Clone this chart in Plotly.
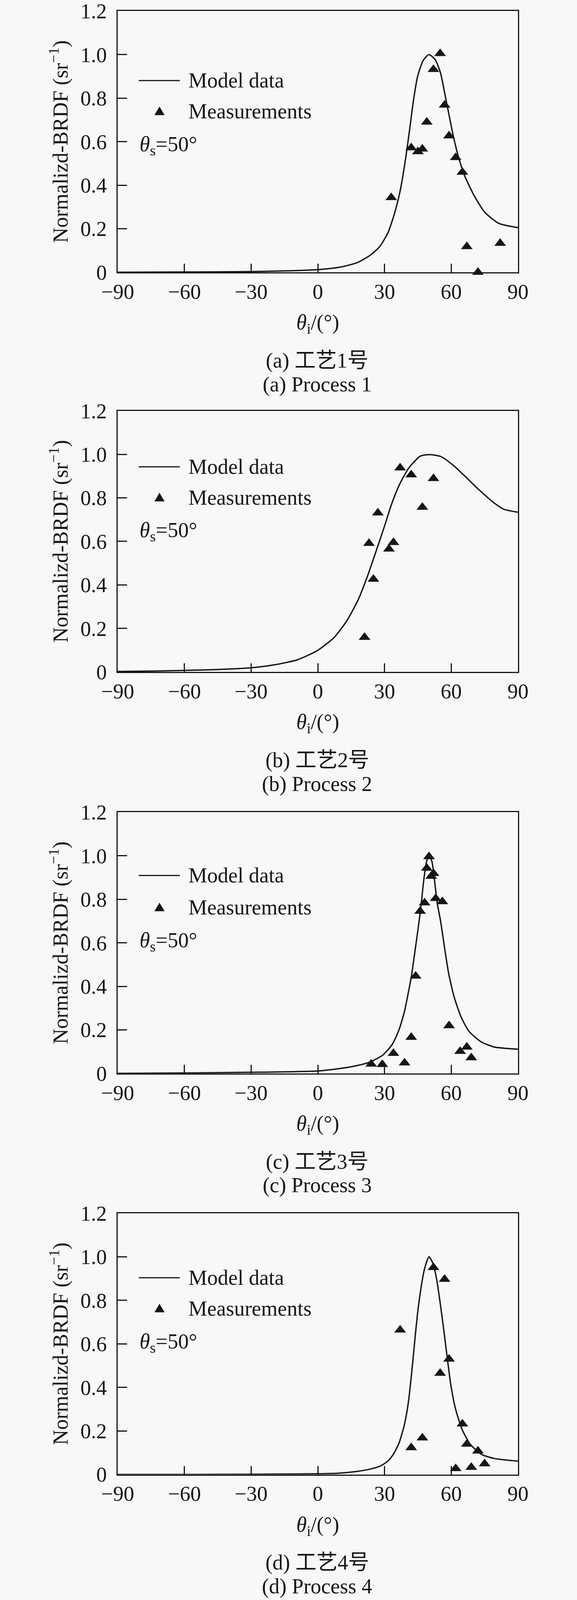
import plotly.graph_objects as go

# ---- data ----
# (a) Process 1
angle_model_1 = [-90, -60, -30, -15, 0, 9.8, 17.7, 23.7, 28.0, 31.6, 34.6, 37.1, 39.5, 41.3, 43.1,
                 44.9, 47.4, 50.0, 52.8, 55.2, 57.3, 59.2, 61.0, 63.4, 66.1, 70.4, 75.2, 81.3, 90]
brdf_model_1 = [0.0, 0.001, 0.003, 0.006, 0.012, 0.023, 0.044, 0.079, 0.120, 0.183, 0.274, 0.378,
                0.524, 0.657, 0.796, 0.901, 0.974, 1.0, 0.977, 0.915, 0.810, 0.713, 0.622, 0.524,
                0.441, 0.350, 0.274, 0.225, 0.205]
angle_meas_1 = [33, 42, 45, 47, 49, 52, 55, 57, 59, 62, 65, 67, 72, 82]
brdf_meas_1 = [0.343, 0.572, 0.554, 0.566, 0.690, 0.932, 1.005, 0.768, 0.627, 0.527, 0.460,
               0.118, 0.0, 0.133]

# (b) Process 2
angle_model_2 = [-90, -75, -60, -45, -30, -19.9, -9.1, 0.1, 7.4, 13.1, 18.2, 22.5, 26.0, 29.7, 33.2,
                 36.8, 41.1, 46.1, 50.4, 55.5, 61.2, 67.0, 72.7, 78.5, 83.5, 90]
brdf_model_2 = [0.002, 0.004, 0.007, 0.011, 0.019, 0.032, 0.056, 0.100, 0.159, 0.236, 0.333, 0.445,
                0.549, 0.661, 0.772, 0.863, 0.940, 0.992, 0.999, 0.989, 0.947, 0.891, 0.835,
                0.783, 0.748, 0.734]
angle_meas_2 = [21, 23, 25, 27, 32, 34, 37, 42, 47, 52]
brdf_meas_2 = [0.159, 0.591, 0.426, 0.731, 0.565, 0.595, 0.938, 0.906, 0.757, 0.889]

# (c) Process 3
angle_model_3 = [-90, -60, -30, 0, 9.8, 17.7, 23.7, 29.2, 33.4, 36.5, 38.9, 40.7, 42.2, 43.7,
                 45.2, 46.4, 47.6, 48.9, 50.0, 51.3, 52.5, 53.7, 55.2, 57.0, 58.8, 61.3, 64.3,
                 67.9, 73.4, 79.4, 90]
brdf_model_3 = [0.0, 0.002, 0.005, 0.011, 0.022, 0.036, 0.053, 0.084, 0.132, 0.200, 0.282,
                0.371, 0.454, 0.563, 0.673, 0.769, 0.885, 0.974, 1.0, 0.974, 0.885, 0.782,
                0.700, 0.577, 0.461, 0.351, 0.262, 0.194, 0.145, 0.121, 0.111]
angle_meas_3 = [24, 29, 34, 39, 42, 44, 46, 48, 49, 50, 51, 52, 53, 56, 59, 64, 67, 69]
brdf_meas_3 = [0.043, 0.041, 0.092, 0.048, 0.166, 0.447, 0.745, 0.784, 0.943, 0.996, 0.906,
               0.919, 0.804, 0.789, 0.219, 0.101, 0.121, 0.072]

# (d) Process 4
angle_model_4 = [-90, -60, -30, 0, 9.8, 17.7, 23.7, 28.0, 31.6, 34.0, 36.5, 38.9, 40.7, 42.2,
                 43.5, 44.7, 46.2, 48.0, 50.0, 51.9, 53.5, 55.2, 56.7, 58.3, 59.8, 61.9, 64.9,
                 68.6, 73.4, 79.4, 90]
brdf_model_4 = [0.0, 0.0, 0.001, 0.003, 0.006, 0.014, 0.025, 0.038, 0.062, 0.093, 0.144, 0.227,
                0.330, 0.467, 0.604, 0.727, 0.844, 0.946, 1.0, 0.967, 0.892, 0.775, 0.659,
                0.528, 0.412, 0.302, 0.206, 0.138, 0.093, 0.073, 0.061]
angle_meas_4 = [37, 42, 47, 52, 55, 57, 59, 62, 65, 67, 69, 72, 75]
brdf_meas_4 = [0.664, 0.123, 0.168, 0.951, 0.465, 0.897, 0.530, 0.027, 0.232, 0.139, 0.033,
               0.108, 0.049]

captions_cn = ["(a) 工艺1号", "(b) 工艺2号", "(c) 工艺3号", "(d) 工艺4号"]
captions_en = ["(a) Process 1", "(b) Process 2", "(c) Process 3", "(d) Process 4"]

x_ticks = [-90, -60, -30, 0, 30, 60, 90]
x_tick_labels = ["\u221290", "\u221260", "\u221230", "0", "30", "60", "90"]
y_ticks = [0, 0.2, 0.4, 0.6, 0.8, 1.0, 1.2]
y_tick_labels = ["0", "0.2", "0.4", "0.6", "0.8", "1.0", "1.2"]

models = [(angle_model_1, brdf_model_1), (angle_model_2, brdf_model_2),
          (angle_model_3, brdf_model_3), (angle_model_4, brdf_model_4)]
meas = [(angle_meas_1, brdf_meas_1), (angle_meas_2, brdf_meas_2),
        (angle_meas_3, brdf_meas_3), (angle_meas_4, brdf_meas_4)]

# ---- page geometry, in pixels of the 1476x4173 original ----
W, H = 1476, 4173
FIG_H = 4096          # visible page height; paper fractions keep the original proportions
plot_left, plot_right = 301, 1325
panel_top = [29, 1071.5, 2118.5, 3164.5]
panel_h = 681
# legend rows, measured down from each panel top: line, triangle, theta_s note
legend_rows = [(181, 261, 343), (146, 226, 307), (165, 248, 329), (168, 248, 330)]

FONT = "Liberation Serif, Times New Roman, Noto Sans CJK SC, serif"
INK = "#161616"
BG = "#f8f8f8"

def px(v):
    return v / W

def py(v):
    return 1 - v / H

fig = go.Figure()
shapes = []
annotations = []

for k in range(4):
    n = "" if k == 0 else str(k + 1)
    top = panel_top[k]
    bottom = top + panel_h
    fig.add_trace(go.Scatter(
        x=models[k][0], y=models[k][1], mode="lines",
        line=dict(color=INK, width=3.5, shape="spline", smoothing=0.6),
        xaxis="x" + n, yaxis="y" + n, showlegend=False, hoverinfo="skip"))
    fig.add_trace(go.Scatter(
        x=meas[k][0], y=meas[k][1], mode="markers",
        marker=dict(symbol="triangle-up", size=26, color=INK, line=dict(width=0)),
        xaxis="x" + n, yaxis="y" + n, showlegend=False, cliponaxis=False))

    ax = dict(
        domain=[px(plot_left), px(plot_right)], range=[-90, 90],
        tickmode="array", tickvals=x_ticks, ticktext=x_tick_labels,
        ticks="inside", ticklen=22, tickwidth=2.5, tickcolor=INK,
        showline=True, linewidth=3, linecolor=INK, mirror=True,
        showgrid=False, zeroline=False, anchor="y" + n, automargin=False,
        tickfont=dict(family=FONT, size=54, color=INK), ticklabelstandoff=0,
        ticklabeloverflow="allow",
    )
    ay = dict(
        domain=[py(bottom), py(top)], range=[0, 1.2],
        tickmode="array", tickvals=y_ticks, ticktext=y_tick_labels,
        ticks="inside", ticklen=24, tickwidth=2.5, tickcolor=INK,
        showline=True, linewidth=3, linecolor=INK, mirror=True,
        showgrid=False, zeroline=False, anchor="x" + n, automargin=False,
        tickfont=dict(family=FONT, size=54, color=INK), ticklabelstandoff=14,
        ticklabeloverflow="allow",
    )
    fig.layout["xaxis" + n] = ax
    fig.layout["yaxis" + n] = ay

    # hand-drawn legend, as in the original figure
    r_line, r_tri, r_note = legend_rows[k]
    shapes.append(dict(type="line", xref="paper", yref="paper",
                       x0=px(355), x1=px(460), y0=py(top + r_line), y1=py(top + r_line),
                       line=dict(color=INK, width=3)))
    shapes.append(dict(type="path", xref="paper", yref="paper",
                       xsizemode="pixel", ysizemode="pixel",
                       xanchor=px(408), yanchor=py(top + r_tri),
                       path="M-13,-10 L13,-10 L0,12 Z",
                       fillcolor=INK, line=dict(width=0)))
    annotations += [
        dict(text="Model data", x=px(480), y=py(top + r_line), xanchor="left", yanchor="middle"),
        dict(text="Measurements", x=px(480), y=py(top + r_tri), xanchor="left", yanchor="middle"),
        dict(text="<i>\u03b8</i><sub>s</sub>=50\u00b0", x=px(355), y=py(top + r_note + 8),
             xanchor="left", yanchor="middle"),
        dict(text="Normalizd-BRDF (sr<sup>\u22121</sup>)", x=px(151), y=py(top + panel_h / 2),
             xanchor="center", yanchor="middle", textangle=-90),
        dict(text="<i>\u03b8</i><sub>i</sub>/(\u00b0)", x=px(813), y=py(bottom + 134),
             xanchor="center", yanchor="middle"),
        dict(text=captions_cn[k], x=px(811), y=py(bottom + 230),
             xanchor="center", yanchor="middle"),
        dict(text=captions_en[k], x=px(811), y=py(bottom + 292),
             xanchor="center", yanchor="middle"),
    ]

for a in annotations:
    a.update(xref="paper", yref="paper", showarrow=False,
             font=dict(family=FONT, size=54, color=INK))

fig.update_layout(
    width=W, height=FIG_H, autosize=False,
    margin=dict(l=0, r=0, t=0, b=0),
    paper_bgcolor=BG, plot_bgcolor=BG,
    shapes=shapes, annotations=annotations,
    showlegend=False,
)

fig.write_html("out.html", config={"displayModeBar": False},
               post_script="document.body.style.margin='0';")
